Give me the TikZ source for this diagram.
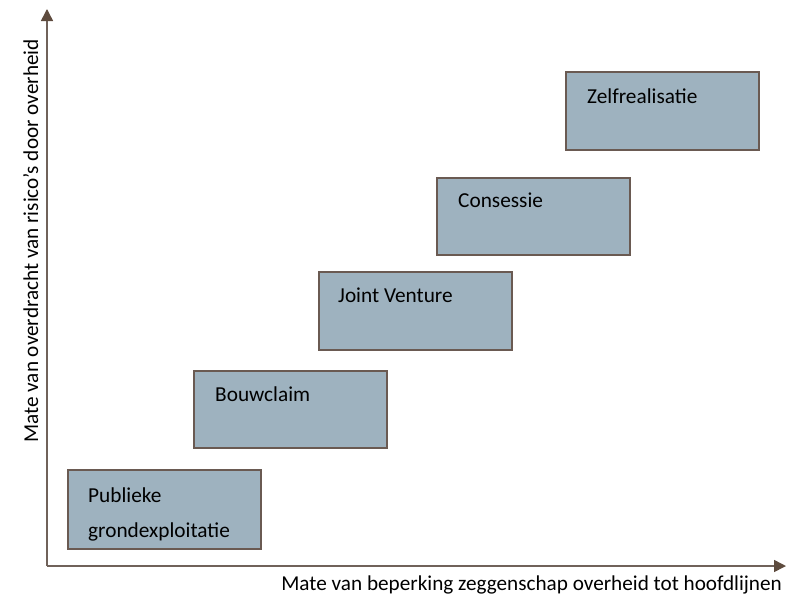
\documentclass[tikz,border=0pt]{standalone}
\usepackage{fontspec}
\setmainfont{Carlito}
\usetikzlibrary{arrows.meta}
\definecolor{boxfill}{RGB}{158,178,191}
\definecolor{boxline}{RGB}{106,90,82}
\definecolor{axisline}{RGB}{112,98,90}
\definecolor{axishead}{RGB}{94,75,62}
\begin{document}
\begin{tikzpicture}[x=1pt,y=-1pt,
  stagebox/.style={draw=boxline,line width=1.5pt,fill=boxfill},
  lbl/.style={anchor=base west,inner sep=0pt,font=\fontsize{21.3}{35}\selectfont,text=black},
  axislbl/.style={inner sep=0pt,font=\fontsize{21.2}{24}\selectfont,text=black},
  axis/.style={draw=axisline,line width=1.5pt,-{Triangle[length=12pt,width=12pt,fill=axishead,color=axishead]}}]
\useasboundingbox (0,0) rectangle (786,595);
% axes
\coordinate (origin) at (47,566);
\coordinate (ytip) at (47,9);
\coordinate (xtip) at (786,566);
\draw[axis] (origin) -- (ytip);
\draw[axis] (origin) -- (xtip);
% boxes
\draw[stagebox] (68,470) rectangle (261,549);
\draw[stagebox] (194,371) rectangle (387,448);
\draw[stagebox] (319,272) rectangle (512,350);
\draw[stagebox] (437,178) rectangle (630,255);
\draw[stagebox] (566,72) rectangle (759,150);
% labels
\node[lbl] (pub) at (88,502) {Publieke};
\node[lbl] (grond) at (88,537) {grondexploitatie};
\node[lbl] (bouw) at (215,401) {Bouwclaim};
\node[lbl] (joint) at (338,302) {Joint Venture};
\node[lbl] (cons) at (458,207) {Consessie};
\node[lbl] (zelf) at (587,103) {Zelfrealisatie};
% axis labels
\node[axislbl,anchor=base east] (xlabel) at (782,590) {Mate van beperking zeggenschap overheid tot hoofdlijnen};
\node[axislbl,anchor=base,rotate=90] (ylabel) at (38,241) {Mate van overdracht van risico's door overheid};
\end{tikzpicture}
\end{document}
